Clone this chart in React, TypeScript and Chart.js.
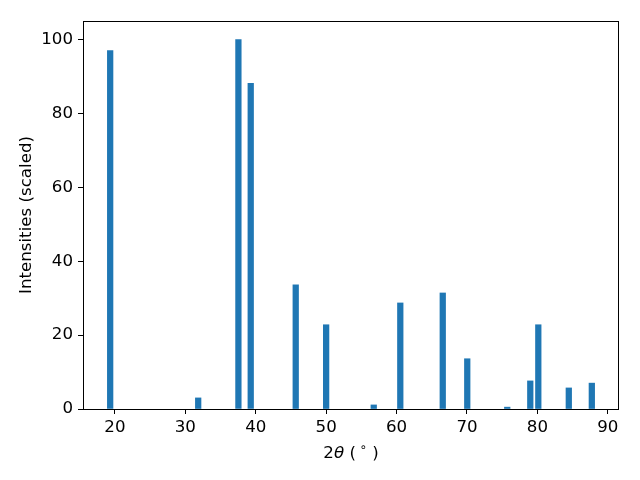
import React, { useEffect, useRef } from "react";
import { Chart, registerables } from "chart.js";

Chart.register(...registerables);

// Peak positions (2θ, degrees) and scaled intensities
const twoTheta = [19.33, 31.83, 37.54, 39.29, 45.68, 50.0, 56.76, 60.53, 66.56, 70.04, 75.72, 78.99, 80.13, 84.46, 87.73];
const intensity = [97.0, 3.0, 100, 88.1, 33.6, 22.8, 1.1, 28.7, 31.4, 13.6, 0.5, 7.6, 22.8, 5.7, 7.0];

const xTicks = [20, 30, 40, 50, 60, 70, 80, 90];
const yTicks = [0, 20, 40, 60, 80, 100];
const xRange = [15.47, 91.59];
const yRange = [0, 105];

const yTitle = "Intensities (scaled)";
const BAR_COLOR = "#1f77b4";
const FONT = "'DejaVu Sans', sans-serif";
const FS = 16.67;

const framePlugin = {
  id: "frame",
  afterDraw(chart: any) {
    const { ctx, chartArea } = chart;
    const { left, right, top, bottom } = chartArea;
    ctx.save();
    ctx.strokeStyle = "#000";
    ctx.lineWidth = 1;
    ctx.strokeRect(Math.round(left) + 0.5, Math.round(top) + 0.5, Math.round(right - left) - 1, Math.round(bottom - top));

    // x-axis label "2θ (°)" in mathtext style
    const normal = `${FS}px ${FONT}`;
    const italic = `oblique ${FS}px ${FONT}`;
    const small = `${(FS * 0.7).toFixed(2)}px ${FONT}`;
    const parts = [
      { t: "2", f: normal, dy: 0 },
      { t: "θ", f: italic, dy: 0 },
      { t: " (", f: normal, dy: 0 },
      { t: " ∘", f: small, dy: -7 },
      { t: " )", f: normal, dy: 0 },
    ];
    let total = 0;
    const widths = parts.map((p) => {
      ctx.font = p.f;
      const w = ctx.measureText(p.t).width;
      total += w;
      return w;
    });
    let x = (left + right) / 2 - total / 2;
    const baseline = 457.5;
    ctx.fillStyle = "#000";
    ctx.textBaseline = "alphabetic";
    ctx.textAlign = "left";
    parts.forEach((p, i) => {
      ctx.font = p.f;
      ctx.fillText(p.t, x, baseline + p.dy);
      x += widths[i];
    });
    ctx.restore();
  },
};

export default function App() {
  const ref = useRef<HTMLCanvasElement | null>(null);

  useEffect(() => {
    if (!ref.current) return;
    const chart = new Chart(ref.current, {
      type: "bar",
      data: {
        datasets: [
          {
            data: twoTheta.map((x, i) => ({ x, y: intensity[i] })),
            backgroundColor: BAR_COLOR,
            borderWidth: 0,
            barThickness: 5.6,
          },
        ],
      },
      options: {
        responsive: false,
        animation: false,
        events: [],
        layout: { padding: { left: 0, right: 21, top: 21, bottom: 0 } },
        plugins: { legend: { display: false }, tooltip: { enabled: false } },
        scales: {
          x: {
            type: "linear",
            offset: false,
            min: xRange[0],
            max: xRange[1],
            afterBuildTicks: (s: any) => {
              s.ticks = xTicks.map((v) => ({ value: v }));
            },
            afterFit: (s: any) => {
              s.height = 71;
            },
            grid: { offset: false, drawOnChartArea: false, drawTicks: true, tickLength: 5, color: "#000", tickColor: "#000" },
            border: { display: false },
            ticks: {
              color: "#000",
              font: { family: FONT, size: FS },
              padding: 4,
              maxRotation: 0,
              autoSkip: false,
              callback: (v: any) => String(v),
            },
            title: { display: false },
          },
          y: {
            type: "linear",
            min: yRange[0],
            max: yRange[1],
            afterBuildTicks: (s: any) => {
              s.ticks = yTicks.map((v) => ({ value: v }));
            },
            afterFit: (s: any) => {
              s.width = 83;
            },
            grid: { offset: false, drawOnChartArea: false, drawTicks: true, tickLength: 5, color: "#000", tickColor: "#000" },
            border: { display: false },
            ticks: {
              color: "#000",
              font: { family: FONT, size: FS },
              padding: 5,
              autoSkip: false,
              callback: (v: any) => String(v),
            },
            title: {
              display: true,
              text: yTitle,
              color: "#000",
              font: { family: FONT, size: FS },
              padding: { top: 17, bottom: 0 },
            },
          },
        },
      },
      plugins: [framePlugin],
    });
    return () => chart.destroy();
  }, []);

  return (
    <div style={{ position: "absolute", left: 0, top: 0, width: 640, height: 480, background: "#fff" }}>
      <canvas ref={ref} width={640} height={480} />
    </div>
  );
}
